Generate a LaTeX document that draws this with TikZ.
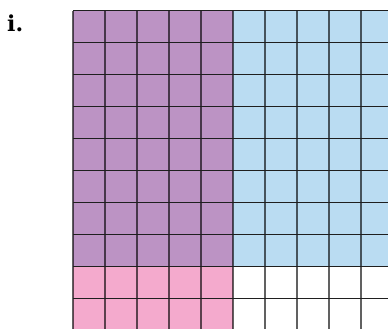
\documentclass[tikz,border=0pt]{standalone}
\usepackage{fontspec}
\newfontfamily\labfont{DejaVu Serif}
\definecolor{cpurple}{HTML}{BC93C4}
\definecolor{cblue}{HTML}{BADCF2}
\definecolor{cpink}{HTML}{F4AACD}
\tikzset{
  vline/.style={line width=1.3pt, draw=black, draw opacity=0.62},
  hline/.style={line width=1.1pt, draw=black!88},
  lab/.style={font=\labfont\bfseries\fontsize{22}{22}\selectfont, anchor=base west, inner sep=0pt}
}
\begin{document}
\begin{tikzpicture}[x=1pt,y=-1pt]
\useasboundingbox (0,0) rectangle (388,329);
\clip (0,0) rectangle (388,329);
\def\gx{73}\def\gy{10.7}\def\cs{32}
% fills
\fill[cpurple] (\gx,\gy) rectangle ++(5*\cs,8*\cs);
\fill[cblue] (\gx+5*\cs,\gy) rectangle ++(5*\cs,8*\cs);
\fill[cpink] (\gx,\gy+8*\cs) rectangle ++(5*\cs,2*\cs);
% vertical lines
\foreach \i in {0,...,10}{
  \draw[vline] (\gx+\i*\cs,\gy) -- (\gx+\i*\cs,\gy+10*\cs);
}
% horizontal lines
\foreach \j in {0,...,10}{
  \draw[hline] (\gx,\gy+\j*\cs) -- (\gx+10*\cs,\gy+\j*\cs);
}
\node[lab] (label) at (7,32) {i.};
\end{tikzpicture}
\end{document}
